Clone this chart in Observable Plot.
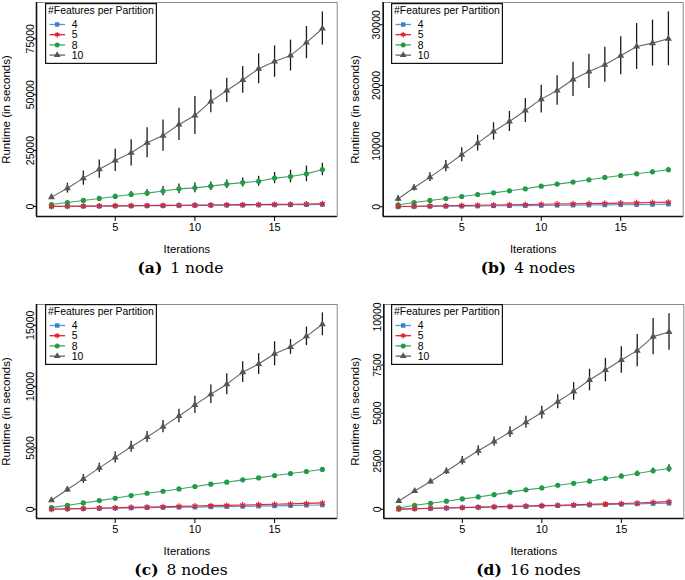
<!DOCTYPE html>
<html>
<head>
<meta charset="utf-8">
<script src="https://cdn.jsdelivr.net/npm/d3@7"></script>
<script src="https://cdn.jsdelivr.net/npm/@observablehq/plot@0.6"></script>
<style>
  html, body { margin: 0; padding: 0; background: #fff; }
  #root { position: relative; width: 685px; height: 580px; overflow: hidden; font-family: "Liberation Sans", Arial, sans-serif; }
  .panel { position: absolute; }
  .panel svg { display: block; }
  .caption { position: absolute; width: 220px; text-align: center; font-family: "DejaVu Serif", "Liberation Serif", serif; font-size: 15.5px; line-height: 20px; color: #000; white-space: nowrap; }
  .caption b { margin-right: 8px; }
</style>
</head>
<body>
<div id="root"></div>
<script>
// ---------- data ----------
const iterations = [1, 2, 3, 4, 5, 6, 7, 8, 9, 10, 11, 12, 13, 14, 15, 16, 17, 18];
const featureSets = ["4", "5", "8", "10"];
const seriesColors = ["#3b7fc8", "#e0222f", "#24994a", "#555555"];
const lineColors = ["#5a95d6", "#e0222f", "#3aa85a", "#666666"];
const seriesSymbols = ["square", "asterisk", "circle", "triangle"];
const panelTags = ["(a)", "(b)", "(c)", "(d)"];
const panelNodes = ["1 node", "4 nodes", "8 nodes", "16 nodes"];
const xTicks = [5, 10, 15];
const yTicksA = [0, 25000, 50000, 75000];
const yTicksB = [0, 10000, 20000, 30000];
const yTicksC = [0, 5000, 10000, 15000];
const yTicksD = [0, 2500, 5000, 7500, 10000];
const legendTitle = "#Features per Partition";
const xLabel = "Iterations";
const yLabel = "Runtime (in seconds)";

// (a) 1 node
const a4  = [30, 80, 130, 180, 230, 280, 330, 380, 430, 480, 530, 580, 630, 680, 730, 780, 840, 900];
const a5  = [50, 100, 170, 230, 290, 360, 420, 490, 550, 620, 690, 760, 820, 890, 950, 1020, 1090, 1200];
const a8  = [900, 1800, 2700, 3600, 4500, 5400, 6000, 6900, 7900, 8350, 9100, 10000, 10700, 11300, 12700, 13400, 14600, 16550];
const a10 = [4200, 8200, 12700, 16700, 20600, 24000, 28500, 31700, 36700, 40700, 47000, 51900, 56600, 61600, 64800, 67500, 73300, 79600];
const a8err  = [300, 400, 600, 800, 1000, 1300, 1500, 2100, 2200, 2200, 1900, 1900, 2000, 2200, 2500, 2800, 3500, 2800];
const a10err = [1000, 2200, 3200, 4100, 5000, 5900, 6700, 7000, 7200, 8500, 5100, 5400, 6000, 6700, 7000, 6900, 7200, 7450];

// (b) 4 nodes
const b4  = [20, 40, 70, 90, 110, 130, 160, 180, 200, 220, 250, 270, 290, 310, 340, 360, 390, 440];
const b5  = [40, 80, 130, 170, 210, 250, 290, 330, 370, 410, 450, 490, 530, 570, 610, 650, 700, 770];
const b8  = [300, 700, 1050, 1370, 1700, 2030, 2300, 2640, 2970, 3400, 3740, 4070, 4450, 4840, 5160, 5440, 5770, 6100];
const b10 = [1320, 3130, 4890, 6700, 8570, 10490, 12420, 14070, 15880, 17750, 19180, 20990, 22310, 23410, 24890, 26430, 26980, 27690];
const b8err  = [80, 100, 120, 130, 150, 160, 170, 180, 190, 200, 210, 220, 230, 250, 260, 280, 300, 400];
const b10err = [490, 520, 740, 930, 1150, 1290, 1430, 1650, 1980, 2300, 2440, 2830, 2830, 2880, 3130, 3790, 3790, 4450];

// (c) 8 nodes
const c4  = [10, 30, 50, 70, 90, 110, 130, 150, 170, 180, 200, 220, 240, 260, 280, 300, 330, 355];
const c5  = [10, 40, 70, 100, 130, 160, 180, 210, 240, 270, 300, 320, 350, 380, 410, 440, 480, 520];
const c8  = [140, 330, 520, 710, 900, 1120, 1310, 1470, 1660, 1860, 2050, 2210, 2400, 2560, 2750, 2920, 3080, 3250];
const c10 = [740, 1610, 2480, 3380, 4230, 5100, 5890, 6740, 7610, 8510, 9380, 10200, 11180, 11840, 12680, 13230, 14100, 15080];
const c8err  = [30, 40, 50, 50, 60, 60, 70, 70, 80, 80, 90, 90, 100, 100, 110, 110, 120, 130];
const c10err = [180, 230, 350, 370, 450, 450, 450, 505, 545, 710, 760, 860, 850, 850, 980, 600, 750, 930];

// (d) 16 nodes
const d4  = [10, 30, 40, 60, 80, 100, 120, 130, 150, 170, 190, 200, 220, 240, 260, 280, 300, 310];
const d5  = [10, 30, 50, 70, 90, 110, 130, 150, 170, 190, 210, 230, 260, 280, 300, 330, 360, 400];
const d8  = [70, 210, 310, 420, 540, 640, 760, 890, 1010, 1110, 1250, 1350, 1460, 1600, 1720, 1860, 2000, 2120];
const d10 = [430, 950, 1440, 1980, 2520, 3040, 3520, 4010, 4530, 5030, 5590, 6130, 6720, 7240, 7760, 8250, 8980, 9220];
const d8err  = [20, 30, 40, 50, 60, 60, 70, 70, 80, 80, 90, 90, 100, 110, 120, 130, 140, 200];
const d10err = [80, 100, 120, 170, 220, 260, 240, 280, 310, 330, 365, 460, 560, 610, 690, 840, 940, 955];

// ---------- layout ----------
const xDomain = [0.06, 18.93];
const panels = [
  {means: [a4, a5, a8, a10], errs: [null, null, a8err, a10err], yTicks: yTicksA, yDomain: [-4470, 91230],
   left: 0, top: 0, width: 340, ml: 36, mr: 3.3, ylo: 34.3, capX: 180.5, capY: 268, legDx: 9},
  {means: [b4, b5, b8, b10], errs: [null, null, b8err, b10err], yTicks: yTicksB, yDomain: [-1600, 33675],
   left: 340, top: 0, width: 345, ml: 42.7, mr: 2.3, ylo: 32.7, capX: 528, capY: 268, legDx: 8},
  {means: [c4, c5, c8, c10], errs: [null, null, c8err, c10err], yTicks: yTicksC, yDomain: [-750, 16695],
   left: 0, top: 301.5, width: 340, ml: 36, mr: 3.3, ylo: 34.3, capX: 181, capY: 570, legDx: 9},
  {means: [d4, d5, d8, d10], errs: [null, null, d8err, d10err], yTicks: yTicksD, yDomain: [-480, 10650],
   left: 340, top: 301.5, width: 345, ml: 43.3, mr: 1.7, ylo: 32.7, capX: 528.5, capY: 570, legDx: 8}
];
const H = 262, MT = 2, MB = 46;
const FONT = "'Liberation Sans', Arial, sans-serif";

const root = document.getElementById("root");

function buildRows(means, errs) {
  return featureSets.flatMap((f, i) => iterations.map((it, j) => ({
    iter: it, feat: f, mean: means[i][j], err: errs[i] ? errs[i][j] : 0
  })));
}

function drawLegend(container, left, top, width) {
  const h = 61;
  const svg = d3.create("svg")
    .attr("width", width).attr("height", h)
    .style("position", "absolute").style("left", left + "px").style("top", top + "px")
    .style("font-family", FONT);
  svg.append("rect").attr("x", 0.6).attr("y", 0.6).attr("width", width - 1.2).attr("height", h - 1.2)
    .attr("fill", "#fff").attr("stroke", "#111").attr("stroke-width", 1.2);
  svg.append("text").attr("x", 3).attr("y", 7.8).attr("dy", "0.35em")
    .style("font-size", "10.4px").attr("fill", "#000").text(legendTitle);
  const symbolTypes = {square: d3.symbolSquare, asterisk: d3.symbolAsterisk, circle: d3.symbolCircle, triangle: d3.symbolTriangle};
  featureSets.forEach((f, i) => {
    const y = 21.5 + 10.2 * i;
    const g = svg.append("g").attr("transform", `translate(0,${y})`);
    g.append("line").attr("x1", 4.5).attr("x2", 20).attr("y1", 0).attr("y2", 0)
      .attr("stroke", lineColors[i]).attr("stroke-width", 1.3);
    const r = 2.5;
    const p = g.append("path").attr("transform", "translate(12.2,0)")
      .attr("d", d3.symbol(symbolTypes[seriesSymbols[i]], Math.PI * r * r)());
    if (seriesSymbols[i] === "asterisk") p.attr("fill", "none").attr("stroke", seriesColors[i]).attr("stroke-width", 1.2);
    else p.attr("fill", seriesColors[i]);
    g.append("text").attr("x", 26.7).attr("y", 0).attr("dy", "0.35em")
      .style("font-size", "10.4px").attr("fill", "#000").text(f);
  });
  container.appendChild(svg.node());
}

panels.forEach((p, k) => {
  const data = buildRows(p.means, p.errs);
  const chart = Plot.plot({
    width: p.width, height: H,
    marginLeft: p.ml, marginRight: p.mr, marginTop: MT, marginBottom: MB,
    x: {domain: xDomain},
    y: {domain: p.yDomain},
    color: {domain: featureSets, range: seriesColors},
    symbol: {domain: featureSets, range: seriesSymbols},
    style: {fontFamily: FONT, fontSize: "11px", color: "#000", background: "transparent", overflow: "visible"},
    marks: [
      Plot.frame({stroke: "#8a8a8a", strokeWidth: 1}),
      Plot.ruleX([xDomain[0]], {stroke: "#111", strokeWidth: 1.6}),
      Plot.ruleY([p.yDomain[0]], {stroke: "#111", strokeWidth: 1.6}),
      Plot.axisX({ticks: xTicks, tickSize: 5, tickPadding: 1.5, fontSize: 11, label: null}),
      Plot.axisX({ticks: [], tickSize: 0, fontSize: 11.3,
        label: xLabel, labelAnchor: "center", labelArrow: "none", labelOffset: 36}),
      Plot.axisY({ticks: p.yTicks, tickSize: 3, tickPadding: 0, tickRotate: -90, fontSize: 10.5,
        tickFormat: d3.format("d"), label: null}),
      Plot.axisY({ticks: [], tickSize: 0, fontSize: 11.5,
        label: yLabel, labelAnchor: "center", labelArrow: "none", labelOffset: p.ylo}),
      Plot.line(data, {x: "iter", y: "mean", z: "feat", stroke: d => lineColors[featureSets.indexOf(d.feat)], strokeWidth: 1.1}),
      Plot.ruleX(data.filter(d => d.err > 0), {x: "iter", y1: d => d.mean - d.err, y2: d => d.mean + d.err,
        stroke: "#1a1a1a", strokeWidth: 1.3}),
      Plot.dot(data.filter(d => d.feat !== "5"), {x: "iter", y: "mean", symbol: "feat", fill: "feat", r: 2.6}),
      Plot.dot(data.filter(d => d.feat === "5"), {x: "iter", y: "mean", symbol: "feat", stroke: "feat", r: 2.8, strokeWidth: 1.2})
    ]
  });
  const div = document.createElement("div");
  div.className = "panel";
  div.style.left = p.left + "px";
  div.style.top = p.top + "px";
  div.style.width = p.width + "px";
  div.style.height = H + "px";
  div.appendChild(chart);
  drawLegend(div, p.ml + p.legDx, MT + 0.5, 112);
  root.appendChild(div);

  const cap = document.createElement("div");
  cap.className = "caption";
  cap.style.left = (p.capX - 110) + "px";
  cap.style.top = (p.capY - 10) + "px";
  cap.innerHTML = `<b>${panelTags[k]}</b>${panelNodes[k]}`;
  root.appendChild(cap);
});
</script>
</body>
</html>
